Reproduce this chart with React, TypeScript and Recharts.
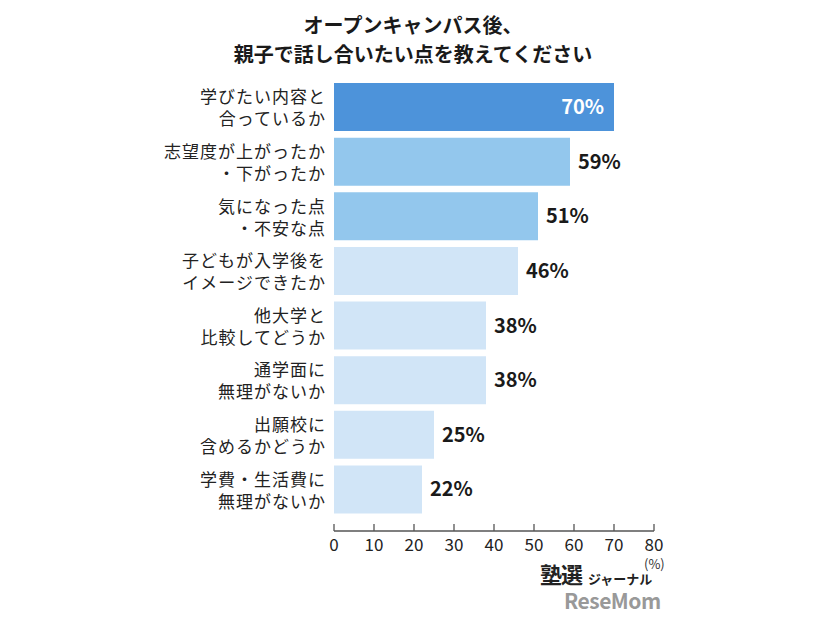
import React from "react";
import { BarChart, Bar, XAxis, YAxis, Cell, LabelList } from "recharts";

const categoryLines: string[][] = [
  ["学びたい内容と", "合っているか"],
  ["志望度が上がったか", "・下がったか"],
  ["気になった点", "・不安な点"],
  ["子どもが入学後を", "イメージできたか"],
  ["他大学と", "比較してどうか"],
  ["通学面に", "無理がないか"],
  ["出願校に", "含めるかどうか"],
  ["学費・生活費に", "無理がないか"],
];
const values: number[] = [70, 59, 51, 46, 38, 38, 25, 22];
const barColors: string[] = ["#4d93da", "#93c7ed", "#93c7ed", "#d1e5f7", "#d1e5f7", "#d1e5f7", "#d1e5f7", "#d1e5f7"];
const xTicks: number[] = [0, 10, 20, 30, 40, 50, 60, 70, 80];
const titleLines: string[] = ["オープンキャンパス後、", "親子で話し合いたい点を教えてください"];

const data = categoryLines.map((lines, i) => ({ name: lines.join("\n"), value: values[i], idx: i }));

const FONT = "'Noto Sans CJK JP', 'Noto Sans', sans-serif";

const YTick = (props: any) => {
  const { x, y, payload } = props;
  const lines = String(payload.value).split("\n");
  return (
    <g>
      {lines.map((l, i) => (
        <text key={i} x={x + 1} y={y + (i === 0 ? -4 : 18)} textAnchor="end" fontFamily={FONT} fontSize={17} letterSpacing={1} fill="#222">
          {l}
        </text>
      ))}
    </g>
  );
};

const XTick = (props: any) => {
  const { x, y, payload } = props;
  return (
    <g>
      <line x1={x} x2={x} y1={y - 7} y2={y} stroke="#555" strokeWidth={1.3} />
      <text x={x} y={y + 20} textAnchor="middle" fontFamily={FONT} fontSize={17} fill="#222">
        {payload.value}
      </text>
    </g>
  );
};

const ValueLabel = (props: any) => {
  const { x, y, width, height, value, index } = props;
  const cy = y + height / 2 + 7;
  if (index === 0) {
    return (
      <text x={x + width - 10} y={cy} textAnchor="end" fontFamily={FONT} fontSize={20} fontWeight={700} fill="#ffffff">
        {value}%
      </text>
    );
  }
  return (
    <text x={x + width + 8} y={cy} textAnchor="start" fontFamily={FONT} fontSize={20} fontWeight={700} fill="#1a1a1a">
      {value}%
    </text>
  );
};

export default function App() {
  return (
    <div style={{ position: "absolute", left: 0, top: 0, width: 826, height: 620, background: "#fff", fontFamily: FONT }}>
      <div style={{ position: "absolute", left: 0, top: 10, width: 826, textAlign: "center", fontSize: 20, fontWeight: 700, color: "#1a1a1a", lineHeight: "29px" }}>
        {titleLines.map((t, i) => (
          <div key={i}>{t}</div>
        ))}
      </div>
      <BarChart
        width={826}
        height={620}
        data={data}
        layout="vertical"
        margin={{ top: 80, right: 172, bottom: 29, left: 0 }}
        barSize={48}
      >
        <XAxis
          type="number"
          domain={[0, 80]}
          ticks={xTicks}
          interval={0}
          height={60}
          tickSize={0}
          tickMargin={0}
          tickLine={false}
          axisLine={{ stroke: "#555", strokeWidth: 1.3 }}
          tick={<XTick />}
        />
        <YAxis
          type="category"
          dataKey="name"
          width={334}
          axisLine={false}
          tickLine={false}
          tickSize={0}
          tickMargin={9}
          padding={{ top: 0, bottom: 14 }}
          interval={0}
          tick={<YTick />}
        />
        <Bar dataKey="value" isAnimationActive={false}>
          {data.map((d, i) => (
            <Cell key={i} fill={barColors[i]} />
          ))}
          <LabelList dataKey="value" content={<ValueLabel />} />
        </Bar>
      </BarChart>
      <div style={{ position: "absolute", left: 644, top: 557, fontSize: 13, lineHeight: "13px", color: "#333" }}>(%)</div>
      <div style={{ position: "absolute", left: 540, top: 562, fontSize: 22, lineHeight: "22px", fontWeight: 700, color: "#222", letterSpacing: -1 }}>塾選</div>
      <div style={{ position: "absolute", left: 588, top: 572, fontSize: 13, lineHeight: "13px", fontWeight: 700, color: "#222" }}>ジャーナル</div>
      <div style={{ position: "absolute", left: 564, top: 591, fontSize: 21, lineHeight: "18px", fontWeight: 700, color: "#777", opacity: 0.75, letterSpacing: -0.5 }}>ReseMom</div>
    </div>
  );
}
